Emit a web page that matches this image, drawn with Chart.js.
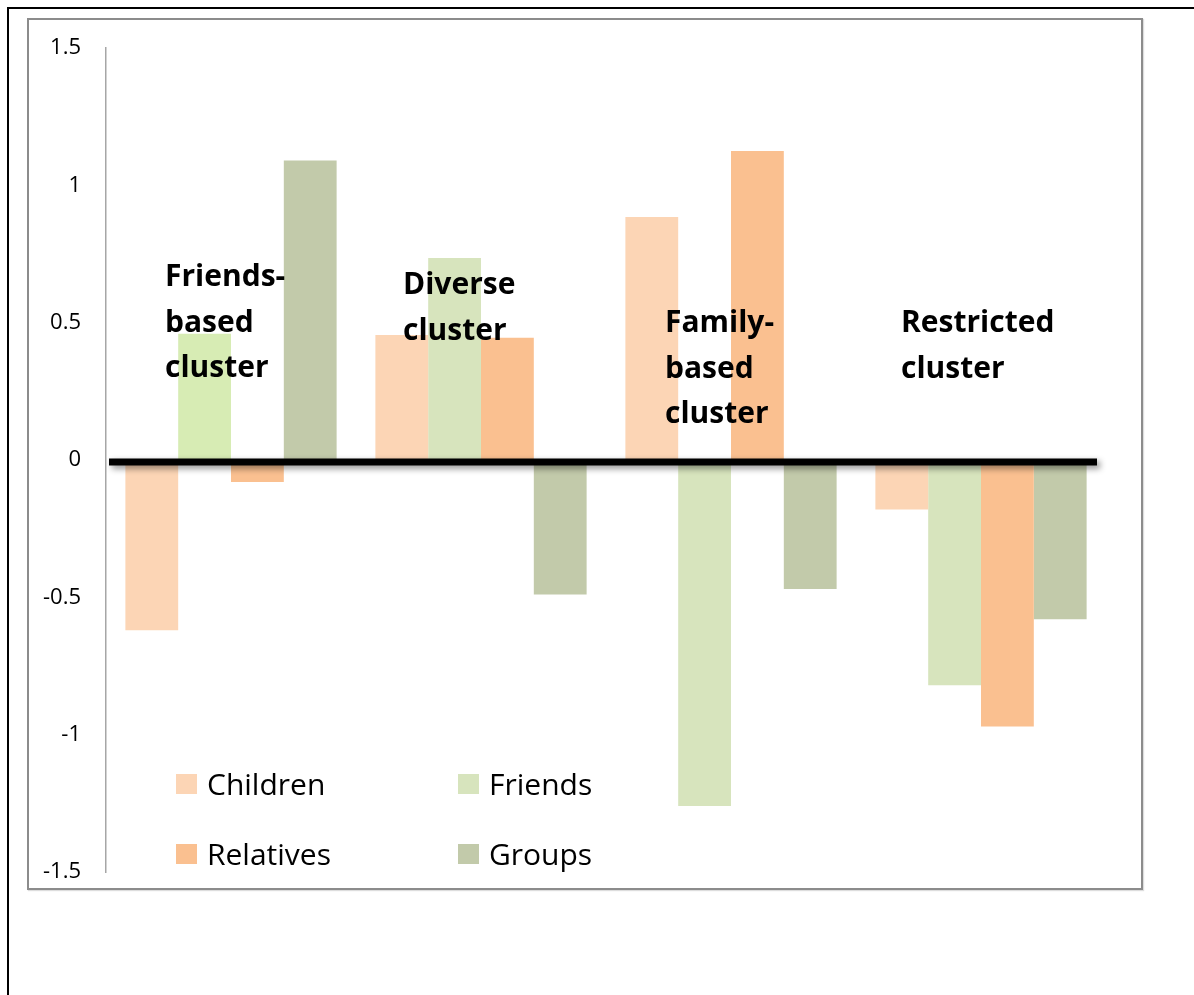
<!DOCTYPE html>
<html>
<head>
<meta charset="UTF-8">
<title>Cluster profiles</title>
<style>
  html, body { margin: 0; padding: 0; background: #fff; }
  .page { position: relative; width: 1194px; height: 995px; overflow: hidden; }
  .outer { position: absolute; left: 7px; top: 7px; width: 1300px; height: 1100px;
           border-left: 2px solid #000; border-top: 2px solid #000; }
  .inner { position: absolute; left: 27px; top: 18px; width: 1116px; height: 872px;
           box-sizing: border-box; border: 2px solid #8c8c8c; box-shadow: 1px 1px 1px #ddd; }
  canvas { position: absolute; left: 0; top: 0; }
</style>
</head>
<body>
<div class="page">
  <div class="outer"></div>
  <div class="inner"></div>
  <canvas id="chart" width="1194" height="995"></canvas>
</div>
<script src="https://cdn.jsdelivr.net/npm/chart.js"></script>
<script>
// clusters (categories)
const clusters = ['Friends-based cluster', 'Diverse cluster', 'Family-based cluster', 'Restricted cluster'];
const clusterLines = [['Friends-', 'based', 'cluster'], ['Diverse', 'cluster'], ['Family-', 'based', 'cluster'], ['Restricted', 'cluster']];

// series values
const children  = [-0.62, 0.455, 0.885, -0.18];
const friends   = [0.46, 0.735, -1.26, -0.82];
const relatives = [-0.08, 0.445, 1.125, -0.97];
const groups    = [1.09, -0.49, -0.47, -0.58];

// y axis ticks
const yTickValues = [-1.5, -1, -0.5, 0, 0.5, 1, 1.5];
const yTickLabels = ['-1.5', '-1', '-0.5', '0', '0.5', '1', '1.5'];

// where the cluster names sit (first baseline, in axis units) and how far left of the category centre
const labelTopValue = [0.633, 0.604, 0.466, 0.466];
const labelOffsetX = [-66, -78, -66, -80];

const FONT = '"Open Sans", Lato, sans-serif';

const zeroLine = {
  id: 'zeroLine',
  afterDatasetsDraw(chart) {
    const { ctx } = chart;
    const y = chart.scales.y.getPixelForValue(0) + 2;
    ctx.save();
    ctx.shadowColor = 'rgba(0,0,0,0.45)';
    ctx.shadowBlur = 6;
    ctx.shadowOffsetX = 3;
    ctx.shadowOffsetY = 3;
    ctx.fillStyle = '#000';
    ctx.fillRect(109, y - 3.5, 1097 - 109, 7);
    ctx.restore();
  }
};

const clusterNames = {
  id: 'clusterNames',
  afterDatasetsDraw(chart) {
    const { ctx } = chart;
    const xs = chart.scales.x, ys = chart.scales.y;
    ctx.save();
    ctx.font = 'bold 30px ' + FONT;
    ctx.fillStyle = '#000';
    ctx.textAlign = 'left';
    ctx.textBaseline = 'alphabetic';
    clusterLines.forEach((lines, i) => {
      const x = xs.getPixelForValue(i) + labelOffsetX[i];
      const y0 = ys.getPixelForValue(labelTopValue[i]);
      lines.forEach((t, k) => ctx.fillText(t, x, y0 + k * 45.5));
    });
    ctx.restore();
  }
};

const boxLegend = {
  id: 'boxLegend',
  afterDraw(chart) {
    const { ctx } = chart;
    const cols = [176, 458], rows = [774, 844];
    ctx.save();
    ctx.font = '30px ' + FONT;
    ctx.textBaseline = 'alphabetic';
    chart.data.datasets.forEach((ds, i) => {
      const x = cols[i % 2], y = rows[Math.floor(i / 2)];
      ctx.fillStyle = ds.legendColor;
      ctx.fillRect(x, y, 21, 20);
      ctx.fillStyle = '#000';
      ctx.fillText(ds.label, x + 31, y + 21);
    });
    ctx.restore();
  }
};

new Chart(document.getElementById('chart'), {
  type: 'bar',
  data: {
    labels: clusters,
    datasets: [
      { label: 'Children', data: children, backgroundColor: '#fcd5b5', legendColor: '#fcd5b5' },
      { label: 'Friends', data: friends, backgroundColor: ['#d7ecb4', '#d7e4bd', '#d7e4bd', '#d7e4bd'], legendColor: '#d7e4bd' },
      { label: 'Relatives', data: relatives, backgroundColor: '#fac090', legendColor: '#fac090' },
      { label: 'Groups', data: groups, backgroundColor: '#c2caaa', legendColor: '#c2caaa' }
    ]
  },
  options: {
    responsive: false,
    devicePixelRatio: 1,
    animation: false,
    layout: { padding: { top: 48, bottom: 123, left: 0, right: 88 } },
    datasets: { bar: { categoryPercentage: 0.845, barPercentage: 1, borderWidth: 0 } },
    plugins: { legend: { display: false }, tooltip: { enabled: false } },
    scales: {
      x: { display: false, offset: true },
      y: {
        min: -1.5,
        max: 1.5,
        afterFit(scale) { scale.width = 106; },
        afterBuildTicks(scale) { scale.ticks = yTickValues.map(v => ({ value: v })); },
        grid: { display: false, drawTicks: false },
        border: { display: true, color: '#a6a6a6', width: 1.5 },
        ticks: {
          padding: 25,
          color: '#000',
          font: { family: FONT, size: 22 },
          callback: (v) => yTickLabels[yTickValues.indexOf(v)]
        }
      }
    }
  },
  plugins: [zeroLine, clusterNames, boxLegend]
});
</script>
</body>
</html>
